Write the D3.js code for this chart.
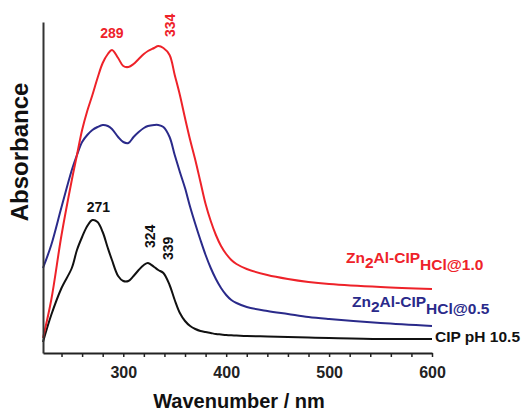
<!DOCTYPE html>
<html>
<head>
<meta charset="utf-8">
<script src="https://cdn.jsdelivr.net/npm/d3@7"></script>
<style>
  body { margin: 0; background: #fff; }
  text { font-family: "Liberation Sans", Arial, sans-serif; }
</style>
</head>
<body>
<div id="chart-container"></div>
<script>
// Wavelengths (nm)
const wavelengths = [222, 230, 240, 250, 255, 260, 265, 270, 275, 280, 285, 289, 295, 300, 305, 310, 315, 320, 324, 330, 334, 339, 345, 350, 355, 360, 365, 370, 375, 380, 385, 390, 395, 400, 405, 410, 420, 440, 460, 480, 500, 550, 600];

// Absorbance (arbitrary units, curves are offset in the figure)
const zn10 = [0.15, 0.53, 1.18, 1.73, 1.98, 2.23, 2.42, 2.58, 2.75, 2.90, 2.99, 3.03, 2.95, 2.87, 2.86, 2.89, 2.94, 2.99, 3.02, 3.05, 3.07, 3.05, 2.98, 2.78, 2.58, 2.35, 2.13, 1.93, 1.71, 1.49, 1.32, 1.18, 1.07, 0.99, 0.93, 0.89, 0.84, 0.78, 0.74, 0.71, 0.69, 0.66, 0.64];
const zn05 = [0.85, 1.08, 1.46, 1.83, 1.98, 2.11, 2.18, 2.23, 2.26, 2.28, 2.27, 2.24, 2.16, 2.11, 2.10, 2.16, 2.21, 2.25, 2.27, 2.28, 2.28, 2.26, 2.16, 1.98, 1.81, 1.65, 1.46, 1.29, 1.13, 0.98, 0.85, 0.74, 0.65, 0.58, 0.53, 0.50, 0.46, 0.42, 0.39, 0.36, 0.34, 0.30, 0.27];
const cip = [0.11, 0.38, 0.65, 0.85, 1.03, 1.16, 1.27, 1.33, 1.31, 1.21, 1.05, 0.93, 0.77, 0.72, 0.72, 0.77, 0.83, 0.88, 0.90, 0.86, 0.83, 0.80, 0.68, 0.53, 0.40, 0.32, 0.27, 0.24, 0.22, 0.21, 0.20, 0.19, 0.185, 0.18, 0.177, 0.175, 0.17, 0.165, 0.16, 0.155, 0.15, 0.14, 0.14];

const xTicks = [240, 260, 280, 300, 320, 340, 360, 380, 400, 420, 440, 460, 480, 500, 520, 540, 560, 580, 600];
const xTickLabels = [300, 400, 500, 600];

// Peak annotations
const peaksRed = ['289', '334'];
const peaksBlack = ['271', '324', '339'];

const red = '#ee2229';
const blue = '#2a2a8a';
const black = '#111';

const width = 523, height = 414;
const margin = { top: 22, right: 91, bottom: 61, left: 43 };

const svg = d3.select('#chart-container')
  .append('svg')
  .attr('width', width)
  .attr('height', height);

const x = d3.scaleLinear()
  .domain([222, 600])
  .range([margin.left, width - margin.right]);

const y = d3.scaleLinear()
  .domain([0, 3.31])
  .range([height - margin.bottom, margin.top]);

const line = d3.line()
  .x(d => x(d[0]))
  .y(d => y(d[1]))
  .curve(d3.curveCatmullRom.alpha(0.5));

const series = [
  { values: cip, color: black },
  { values: zn05, color: blue },
  { values: zn10, color: red }
];

series.forEach(s => {
  svg.append('path')
    .datum(wavelengths.map((w, i) => [w, s.values[i]]))
    .attr('fill', 'none')
    .attr('stroke', s.color)
    .attr('stroke-width', 2)
    .attr('stroke-linejoin', 'round')
    .attr('d', line);
});

// x axis
const xAxis = svg.append('g')
  .attr('transform', `translate(0,${height - margin.bottom})`)
  .call(d3.axisBottom(x)
    .tickValues(xTicks)
    .tickSize(4)
    .tickSizeOuter(0)
    .tickPadding(10)
    .tickFormat(d => xTickLabels.includes(d) ? d : ''));
xAxis.select('.domain').attr('stroke', '#222').attr('stroke-width', 2);
xAxis.selectAll('.tick line').attr('stroke', '#222').attr('stroke-width', 1.5);
xAxis.selectAll('.tick text')
  .attr('font-size', 16)
  .attr('font-weight', 'bold')
  .attr('fill', '#222');

// y axis (no ticks)
const yAxis = svg.append('g')
  .attr('transform', `translate(${margin.left},0)`)
  .call(d3.axisLeft(y).ticks(0).tickSizeOuter(0));
yAxis.select('.domain').attr('stroke', '#333').attr('stroke-width', 2);

// axis titles
svg.append('text')
  .attr('x', 239)
  .attr('y', 408)
  .attr('text-anchor', 'middle')
  .attr('font-size', 20)
  .attr('font-weight', 'bold')
  .attr('fill', '#111')
  .text('Wavenumber / nm');

svg.append('text')
  .attr('transform', 'translate(28,152) rotate(-90)')
  .attr('text-anchor', 'middle')
  .attr('font-size', 24)
  .attr('font-weight', 'bold')
  .attr('fill', '#111')
  .text('Absorbance');

// peak labels, placed next to the sampled peak of each curve
const peakLayout = {
  '289': { dx: 0, dy: -12, rot: false },
  '334': { dx: 17, dy: -9, rot: true },
  '271': { dx: 5, dy: -8, rot: false },
  '324': { dx: 7, dy: -15, rot: true },
  '339': { dx: 10, dy: -13, rot: true }
};
function peakLabels(peaks, values, color) {
  peaks.forEach(p => {
    const w = +p;
    const i = d3.minIndex(wavelengths, v => Math.abs(v - w));
    const px = x(w) + peakLayout[p].dx;
    const py = y(values[i]) + peakLayout[p].dy;
    const t = svg.append('text')
      .attr('font-size', 14)
      .attr('font-weight', 'bold')
      .attr('fill', color)
      .text(p);
    if (peakLayout[p].rot) {
      t.attr('text-anchor', 'start')
        .attr('transform', `translate(${px},${py}) rotate(-90)`);
    } else {
      t.attr('text-anchor', 'middle')
        .attr('x', px)
        .attr('y', py);
    }
  });
}
peakLabels(peaksRed, zn10, red);
peakLabels(peaksBlack, cip, black);

// series labels
function seriesLabel(xp, yp, main, sub, color) {
  const t = svg.append('text')
    .attr('x', xp)
    .attr('y', yp)
    .attr('font-size', 15.5)
    .attr('font-weight', 'bold')
    .attr('fill', color);
  t.append('tspan').text('Zn');
  t.append('tspan').attr('dy', 5).text('2');
  t.append('tspan').attr('dy', -5).text(main);
  t.append('tspan').attr('dy', 7).text(sub);
}
seriesLabel(346, 263, 'Al-CIP', 'HCl@1.0', red);
seriesLabel(352, 307, 'Al-CIP', 'HCl@0.5', blue);

svg.append('text')
  .attr('x', 435)
  .attr('y', 342)
  .attr('font-size', 15.5)
  .attr('font-weight', 'bold')
  .attr('fill', '#111')
  .text('CIP pH 10.5');
</script>
</body>
</html>
